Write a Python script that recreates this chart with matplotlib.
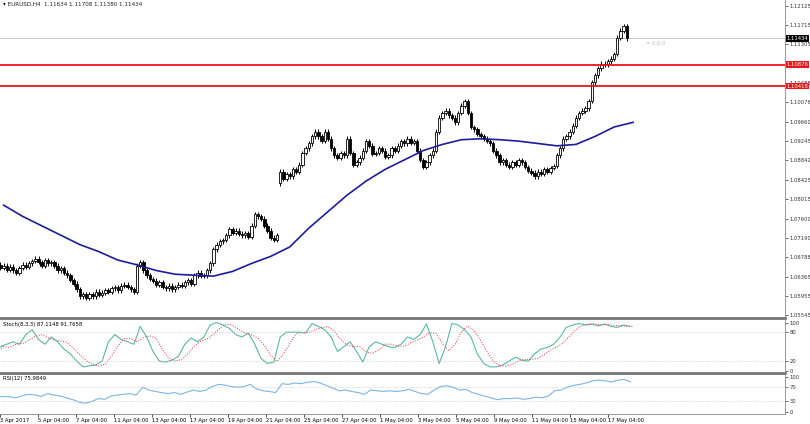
import matplotlib
matplotlib.use("Agg")
import matplotlib.pyplot as plt
import numpy as np

days = ["3 Apr","4 Apr","5 Apr","6 Apr","7 Apr","10 Apr","11 Apr","12 Apr","13 Apr","14 Apr",
        "17 Apr","18 Apr","19 Apr","20 Apr","21 Apr","24 Apr","25 Apr","26 Apr","27 Apr","28 Apr",
        "1 May","2 May","3 May","4 May","5 May","8 May","9 May","10 May","11 May","12 May",
        "15 May","16 May","17 May","18 May"]
closes = [
 1.0668,1.0662,1.0655,1.0660,1.0652,1.0658, 1.0650,1.0645,1.0655,1.0662,1.0658,1.0665,
 1.0670,1.0675,1.0668,1.0660,1.0672,1.0665, 1.0668,1.0660,1.0650,1.0655,1.0645,1.0640,
 1.0630,1.0622,1.0610,1.0595,1.0600,1.0592, 1.0600,1.0595,1.0605,1.0598,1.0603,1.0608,
 1.0605,1.0612,1.0615,1.0608,1.0618,1.0620, 1.0615,1.0610,1.0605,1.0660,1.0668,1.0650,
 1.0640,1.0632,1.0628,1.0620,1.0625,1.0615, 1.0612,1.0618,1.0610,1.0615,1.0620,1.0617,
 1.0625,1.0630,1.0622,1.0640,1.0645,1.0638, 1.0640,1.0650,1.0665,1.0695,1.0705,1.0712,
 1.0715,1.0725,1.0738,1.0730,1.0735,1.0728, 1.0725,1.0730,1.0722,1.0745,1.0770,1.0765,
 1.0760,1.0745,1.0735,1.0720,1.0715,1.0725, 1.0860,1.0845,1.0855,1.0850,1.0865,1.0860,
 1.0875,1.0900,1.0910,1.0920,1.0935,1.0945, 1.0935,1.0925,1.0945,1.0930,1.0910,1.0895,
 1.0890,1.0900,1.0895,1.0930,1.0900,1.0875, 1.0880,1.0890,1.0905,1.0925,1.0915,1.0898,
 1.0900,1.0910,1.0905,1.0892,1.0895,1.0910, 1.0905,1.0915,1.0925,1.0920,1.0930,1.0922,
 1.0925,1.0905,1.0885,1.0870,1.0880,1.0895, 1.0905,1.0945,1.0975,1.0985,1.0990,1.0980,
 1.0975,1.0965,1.0985,1.1000,1.1010,1.0985, 1.0955,1.0950,1.0940,1.0935,1.0930,1.0925,
 1.0920,1.0905,1.0895,1.0880,1.0885,1.0875, 1.0870,1.0880,1.0875,1.0885,1.0880,1.0870,
 1.0862,1.0858,1.0850,1.0860,1.0855,1.0865, 1.0860,1.0868,1.0872,1.0895,1.0910,1.0930,
 1.0935,1.0945,1.0958,1.0975,1.0985,1.0990, 1.0995,1.1010,1.1050,1.1065,1.1080,1.1090,
 1.1088,1.1095,1.1100,1.1110,1.1145,1.1160, 1.1170,1.11434]
first_open = 1.0665
gap_open = 1.0835
ma_day = [1.0789,1.0765,1.0745,1.0725,1.0705,1.0690,1.0672,1.0662,1.0650,1.0642,1.0640,1.0638,
          1.0648,1.0665,1.0680,1.0700,1.0740,1.0775,1.0810,1.0840,1.0865,1.0885,1.0905,1.0918,
          1.0928,1.0930,1.0928,1.0925,1.0920,1.0915,1.0918,1.0935,1.0955,1.0965]
stoch_k = [40,50,55, 60,55,75, 85,65,55, 70,60,45, 35,20,8, 10,12,20, 60,75,65, 60,55,92,
           70,40,20, 18,22,30, 55,68,60, 70,95,100, 95,88,75, 70,78,55, 25,15,18, 70,80,80,
           80,78,98, 92,85,70, 40,50,60, 40,18,50, 60,55,50, 48,55,70, 65,75,97, 60,15,50,
           98,95,85, 70,35,15, 8,8,12, 20,28,22, 20,35,45, 48,55,70, 90,95,98, 95,97,93,
           97,92,90, 95,92]
rsi = [42,44,43, 40,46,50, 48,44,52, 48,45,40, 35,28,25, 30,38,36, 45,48,50, 52,48,70,
       62,58,55, 52,55,50, 56,62,58, 62,72,78, 76,72,70, 72,78,65, 60,58,55, 80,78,82,
       80,84,86, 82,75,68, 60,62,58, 55,50,62, 60,58,60, 58,60,64, 58,52,50, 62,72,74,
       70,62,64, 55,50,45, 40,35,38, 38,40,36, 38,42,40, 45,60,62, 70,75,78, 82,88,90,
       88,85,90, 92,85]
tick_labels = ["3 Apr 2017","5 Apr 04:00","7 Apr 04:00","11 Apr 04:00","13 Apr 04:00","17 Apr 04:00",
               "19 Apr 04:00","21 Apr 04:00","25 Apr 04:00","27 Apr 04:00","1 May 04:00","3 May 04:00",
               "5 May 04:00","9 May 04:00","11 May 04:00","15 May 04:00","17 May 04:00"]
price_ticks = [1.12125,1.11715,1.11305,1.10485,1.10076,1.09660,1.09245,1.08842,1.08425,1.08015,
               1.07600,1.07190,1.06788,1.06365,1.05955,1.05545]
res_lines = [1.10876, 1.10418]
last_price = 1.11434

FS = 3.8
FAM = ['Liberation Sans Narrow', 'DejaVu Sans']
plt.rcParams['font.family'] = FAM
W = 810
fig = plt.figure(figsize=(8.1, 4.24), dpi=100)
aw = 785 / W
ax = fig.add_axes([0, 0.25, aw, 0.75])
ax2 = fig.add_axes([0, 0.12, aw, 0.125])
ax3 = fig.add_axes([0, 0.024, aw, 0.092])

n = len(closes)
opens = [first_open] + closes[:-1]
opens[15 * 6] = gap_open
for i in range(n):
    o, c = opens[i], closes[i]
    hi = max(o, c) + 0.0005; lo = min(o, c) - 0.0005
    ax.vlines(i, lo, hi, color='black', lw=0.7, zorder=2)
    bull = c >= o
    h = abs(c - o) if abs(c - o) > 0.00005 else 0.00005
    ax.add_patch(plt.Rectangle((i - 0.38, min(o, c)), 0.76, h, facecolor='white' if bull else 'black',
                               edgecolor='black', lw=0.6, zorder=3))
ax.plot(np.arange(len(ma_day)) * 6 + 3, ma_day, color='#1c1c9c', lw=1.2, zorder=4)
xl = (6 / 3.18, (785 + 6) / 3.18)
ax.set_xlim(*xl); ax.set_ylim(1.0549, 1.1225)
for r in res_lines:
    ax.axhline(r, color='#e8161b', lw=1.3, zorder=5)
    ax.text(1.002, r, f"{r:.5f}", transform=ax.get_yaxis_transform(), fontsize=FS, color='white',
            va='center', ha='left', bbox=dict(boxstyle='square,pad=0.15', fc='#e8161b', ec='none'))
ax.axhline(last_price, color='#c8c8c8', lw=0.7, zorder=1)
ax.text(1.002, last_price, f"{last_price:.5f}", transform=ax.get_yaxis_transform(), fontsize=FS,
        color='white', va='center', ha='left', bbox=dict(boxstyle='square,pad=0.15', fc='black', ec='none'))
ax.text(205, last_price - 0.0005, "= 0.0.0", fontsize=FS, color='#bbbbbb', va='top')
ax.text(0.004, 0.995, "\u25be EURUSD,H4  1.11634 1.11708 1.11380 1.11434", transform=ax.transAxes,
        fontsize=FS + 0.3, va='top', color='#222222')
ax.yaxis.tick_right()
ax.set_yticks(price_ticks)
ax.set_yticklabels([f"{p:.5f}" for p in price_ticks])

sidx = np.arange(len(stoch_k)) * 2
kk = np.array(stoch_k, float)
dd = np.convolve(kk, np.ones(3) / 3, mode='full')[:len(kk)]
dd[:2] = kk[:2]
ax2.plot(sidx, kk, color='#5bb6a8', lw=0.8)
ax2.plot(sidx + 1, dd, color='#e0302a', lw=0.7, ls=':')
for lv in (80, 20):
    ax2.axhline(lv, color='#bbbbbb', lw=0.5, ls=':')
ax2.set_ylim(-5, 105); ax2.set_xlim(*xl)
ax2.yaxis.tick_right(); ax2.set_yticks([100, 80, 20, 0])
ax2.text(0.004, 0.96, "Stoch(8,3,3) 87.1148 91.7658", transform=ax2.transAxes, fontsize=FS, va='top')

ax3.plot(np.arange(len(rsi)) * 2, rsi, color='#7db4e0', lw=0.8)
for lv in (70, 30):
    ax3.axhline(lv, color='#bbbbbb', lw=0.5, ls=':')
ax3.set_ylim(-5, 105); ax3.set_xlim(*xl)
ax3.yaxis.tick_right(); ax3.set_yticks([100, 70, 30, 0])
ax3.text(0.004, 0.96, "RSI(12) 75.9849", transform=ax3.transAxes, fontsize=FS, va='top')
ax3.set_xticks([1 + 12 * k for k in range(len(tick_labels))])
ax3.set_xticklabels(tick_labels, ha='left')

for a in (ax, ax2, ax3):
    for s in ('left', 'top'):
        a.spines[s].set_visible(False)
    a.spines['right'].set_color('#888888'); a.spines['right'].set_linewidth(0.6)
    a.tick_params(axis='y', labelsize=FS, length=2, width=0.5, pad=1, colors='#333333')
    a.tick_params(axis='x', labelsize=FS, length=2, width=0.5, pad=1)
for a in (ax, ax2):
    a.set_xticks([])
    a.spines['bottom'].set_color('#777777'); a.spines['bottom'].set_linewidth(2)
ax3.spines['bottom'].set_color('#888888'); ax3.spines['bottom'].set_linewidth(0.6)
fig.savefig("out.png", dpi=100)
